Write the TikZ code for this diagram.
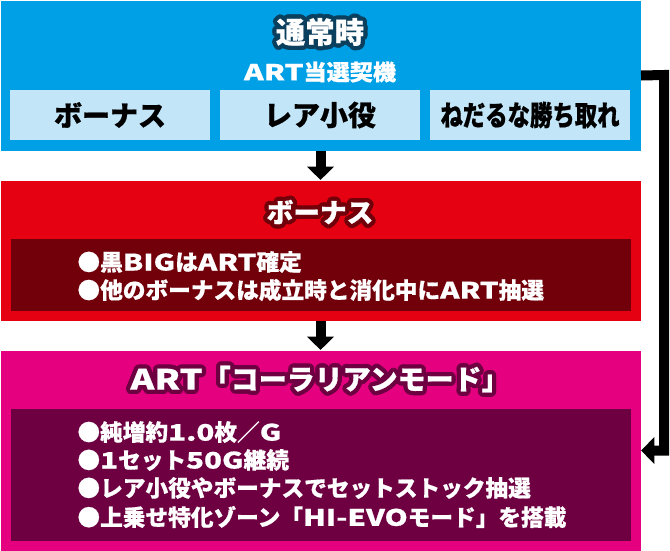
\documentclass[tikz,border=0pt]{standalone}
\usepackage{fontspec}
\usepackage{graphicx}
\usetikzlibrary{arrows.meta}
\newfontfamily\jpfont{Noto Sans CJK JP Black}[FakeBold=0.6]
\newcommand{\widelatin}[1]{\scalebox{1.3}[1]{#1}}

\definecolor{normalblue}{HTML}{00A0E6}
\definecolor{chanceblue}{HTML}{C2E5F8}
\definecolor{navyedge}{HTML}{0B3F5E}
\definecolor{bonusred}{HTML}{E50012}
\definecolor{bonusdark}{HTML}{72000A}
\definecolor{artpink}{HTML}{E4007F}
\definecolor{artdark}{HTML}{6E0042}

\tikzset{every picture/.style={line width=0.75pt}}
\tikzset{
  panel/.style={inner sep=0pt, minimum width=480pt, anchor=north west},
  chancebox/.style={fill=chanceblue, inner sep=0pt, minimum width=150pt, minimum height=37.5pt,
    font=\jpfont\fontsize{21pt}{21pt}\selectfont},
  notebox/.style={inner sep=0pt, minimum width=465pt, anchor=north west},
  notetext/.style={anchor=west, inner sep=0pt, text=white, font=\jpfont\fontsize{17pt}{17pt}\selectfont},
  titletext/.style={inner sep=0pt, text=white},
  edgetext/.style={inner sep=0pt, text=#1, xshift={3.2*cos(\a)}, yshift={3.2*sin(\a)}},
  flowarrow/.style={line width=7.5pt, -{Triangle[length=10pt,width=19.5pt]}},
}

\begin{document}
\begin{tikzpicture}[x=0.75pt,y=0.75pt,yscale=-1,xscale=1]
\useasboundingbox (0,0) rectangle (670,550);

% Panels
\node [panel, fill=normalblue, minimum height=112.5pt] (normal) at (0,0) {};
\node [panel, fill=bonusred, minimum height=105pt] (bonus) at (0,180) {};
\node [panel, fill=artpink, minimum height=150pt] (art) at (0,350) {};

% Normal state
\foreach \a in {0,20,...,340}
  \node [edgetext=navyedge, font=\jpfont\fontsize{22pt}{22pt}\selectfont] (normaledge\a) at (320,32) {通常時};
\node [titletext, font=\jpfont\fontsize{22pt}{22pt}\selectfont] (normaltitle) at (320,32) {通常時};
\node [titletext, font=\jpfont\fontsize{16.5pt}{16.5pt}\selectfont] (chancetitle) at (320,72) {\scalebox{1.05}[1]{\widelatin{ART}当選契機}};

\node [chancebox] (chancebonus) at (110,115) {ボーナス};
\node [chancebox] (chancerare) at (320,115) {レア小役};
\node [chancebox] (chancenedaru) at (530,115) {\scalebox{0.8}[1]{ねだるな勝ち取れ}};

% Bonus
\foreach \a in {0,20,...,340}
  \node [edgetext=bonusdark, font=\jpfont\fontsize{20pt}{20pt}\selectfont] (bonusedge\a) at (320,212) {ボーナス};
\node [titletext, font=\jpfont\fontsize{20pt}{20pt}\selectfont] (bonustitle) at (320,212) {ボーナス};

\node [notebox, fill=bonusdark, minimum height=54pt] (bonusnote) at (10,238) {};
\node [notetext] (bonusline1) at (77,262) {●黒\widelatin{BIG}は\widelatin{ART}確定};
\node [notetext] (bonusline2) at (77,290) {●他のボーナスは成立時と消化中に\widelatin{ART}抽選};

% ART
\foreach \a in {0,20,...,340}
  \node [edgetext=artdark, font=\jpfont\fontsize{21pt}{21pt}\selectfont] (artedge\a) at (320,379) {\widelatin{ART}「コーラリアンモード」};
\node [titletext, font=\jpfont\fontsize{21pt}{21pt}\selectfont] (arttitle) at (320,379) {\widelatin{ART}「コーラリアンモード」};

\node [notebox, fill=artdark, minimum height=99pt] (artnote) at (10,408) {};
\node [notetext] (artline1) at (77,432) {●純増約\widelatin{1.0}枚／\widelatin{G}};
\node [notetext] (artline2) at (77,460) {●\widelatin{1}セット\widelatin{50G}継続};
\node [notetext] (artline3) at (77,488) {●レア小役やボーナスでセットストック抽選};
\node [notetext] (artline4) at (77,517) {●上乗せ特化ゾーン「\widelatin{HI-EVO}モード」を搭載};

% Connectors
\draw [flowarrow] (normal.south) -- (bonus.north);
\draw [flowarrow] (bonus.south) -- (art.north);
\coordinate (loopturn) at (664,75);
\draw [flowarrow] (normal.east) -- (loopturn) |- (art.east);

\end{tikzpicture}
\end{document}
